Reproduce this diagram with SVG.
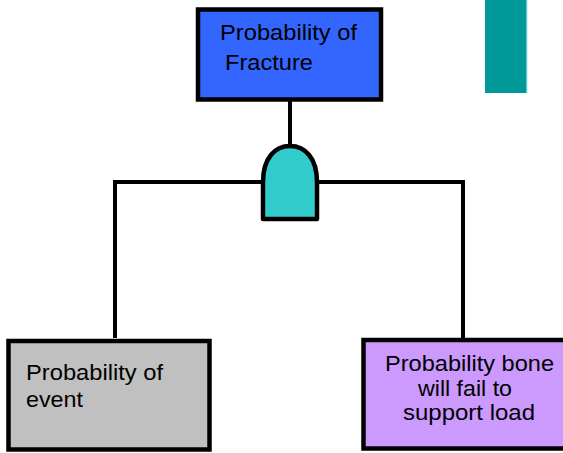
<svg xmlns="http://www.w3.org/2000/svg" width="563" height="453" viewBox="0 0 563 453">
<style>
.box{stroke:#000;stroke-width:4.5}
.wire{fill:none;stroke:#000;stroke-width:4}
text{font-family:"Liberation Sans",Arial,sans-serif;font-size:22px;fill:#000}
</style>
<rect x="0" y="0" width="563" height="453" fill="#fff"/>
<rect x="485" y="0" width="41" height="93" fill="#009999"/>
<rect x="526" y="0" width="1.3" height="93" fill="#66CCCC"/>
<g id="connectors">
<path class="wire" d="M290,101 V147"/>
<path class="wire" d="M263,182 H115 V338"/>
<path class="wire" d="M317,182 H463 V338"/>
</g>
<g id="top">
<rect class="box" x="198" y="9.5" width="183" height="90" fill="#3366FF"/>
<text x="220" y="40" textLength="137" lengthAdjust="spacingAndGlyphs">Probability of</text>
<text x="225" y="70" textLength="88" lengthAdjust="spacingAndGlyphs">Fracture</text>
</g>
<g id="gate">
<path d="M263,219 V182 C263,158 275,146 290,146 C305,146 317,158 317,182 V219 Z" fill="#33CCCC" stroke="#000" stroke-width="4.5" stroke-linejoin="round"/>
</g>
<g id="event">
<rect class="box" x="8.5" y="341" width="201" height="108.5" fill="#C0C0C0"/>
<text x="26" y="380" textLength="137" lengthAdjust="spacingAndGlyphs">Probability of</text>
<text x="26" y="407" textLength="57" lengthAdjust="spacingAndGlyphs">event</text>
</g>
<g id="bone">
<rect class="box" x="363.5" y="340" width="206" height="108.5" fill="#CC99FF"/>
<text x="469.5" y="371" text-anchor="middle" textLength="169" lengthAdjust="spacingAndGlyphs">Probability bone</text>
<text x="465" y="395.5" text-anchor="middle" textLength="94" lengthAdjust="spacingAndGlyphs">will fail to</text>
<text x="469" y="420" text-anchor="middle" textLength="132" lengthAdjust="spacingAndGlyphs">support load</text>
</g>
</svg>
